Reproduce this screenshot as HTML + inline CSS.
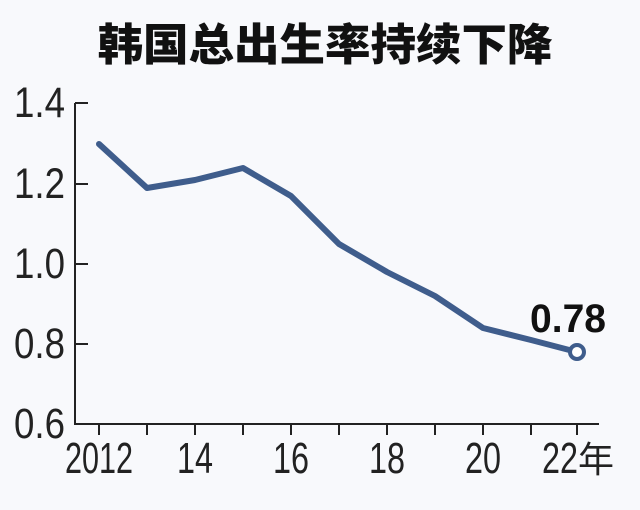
<!DOCTYPE html>
<html><head><meta charset="utf-8"><style>
html,body{margin:0;padding:0;background:#f8f9fc;}
svg{display:block}
</style></head><body>
<svg width="640" height="510" viewBox="0 0 640 510">
<rect width="640" height="510" fill="#f8f9fc"/>
<text x="325" y="60" text-anchor="middle" font-family="'Noto Sans CJK SC',sans-serif" font-weight="900" font-size="44" fill="#111" textLength="455" lengthAdjust="spacingAndGlyphs">韩国总出生率持续下降</text>
<g stroke="#222" stroke-width="2" fill="none">
<path d="M75 103 V424 H599"/>
<path d="M75 103 h13 M75 184 h13 M75 264 h13 M75 344 h13"/>
<path d="M99 424 v11 M147 424 v11 M195 424 v11 M243 424 v11 M291 424 v11 M339 424 v11 M387 424 v11 M435 424 v11 M483 424 v11 M531 424 v11 M577 424 v11"/>
</g>
<g font-family="'Liberation Sans',sans-serif" font-size="43" fill="#222" text-anchor="end">
<text x="65" y="117" textLength="51" lengthAdjust="spacingAndGlyphs">1.4</text>
<text x="65" y="198" textLength="51" lengthAdjust="spacingAndGlyphs">1.2</text>
<text x="65" y="278" textLength="51" lengthAdjust="spacingAndGlyphs">1.0</text>
<text x="65" y="358" textLength="51" lengthAdjust="spacingAndGlyphs">0.8</text>
<text x="65" y="438" textLength="51" lengthAdjust="spacingAndGlyphs">0.6</text>
</g>
<g font-family="'Liberation Sans',sans-serif" font-size="44" fill="#222" text-anchor="middle">
<text x="99" y="473" textLength="68" lengthAdjust="spacingAndGlyphs">2012</text>
<text x="195" y="473" textLength="36" lengthAdjust="spacingAndGlyphs">14</text>
<text x="291" y="473" textLength="36" lengthAdjust="spacingAndGlyphs">16</text>
<text x="387" y="473" textLength="36" lengthAdjust="spacingAndGlyphs">18</text>
<text x="483" y="473" textLength="36" lengthAdjust="spacingAndGlyphs">20</text>
<text x="560" y="473" textLength="36" lengthAdjust="spacingAndGlyphs">22</text>
</g>
<text x="578" y="472" font-family="'Noto Sans CJK SC',sans-serif" font-size="36" fill="#222">年</text>
<polyline fill="none" stroke="#3f5d8c" stroke-width="6" stroke-linejoin="round" stroke-linecap="round"
points="99,144 147,188 195,180 243,168 291,196 339,244 387,272 435,296 483,328 531,340 577,352"/>
<circle cx="577" cy="352" r="7" fill="#fff" stroke="#3f5d8c" stroke-width="4"/>
<text x="568" y="332" text-anchor="middle" font-family="'Liberation Sans',sans-serif" font-weight="bold" font-size="40" fill="#111" textLength="76" lengthAdjust="spacingAndGlyphs">0.78</text>
</svg>
</body></html>
